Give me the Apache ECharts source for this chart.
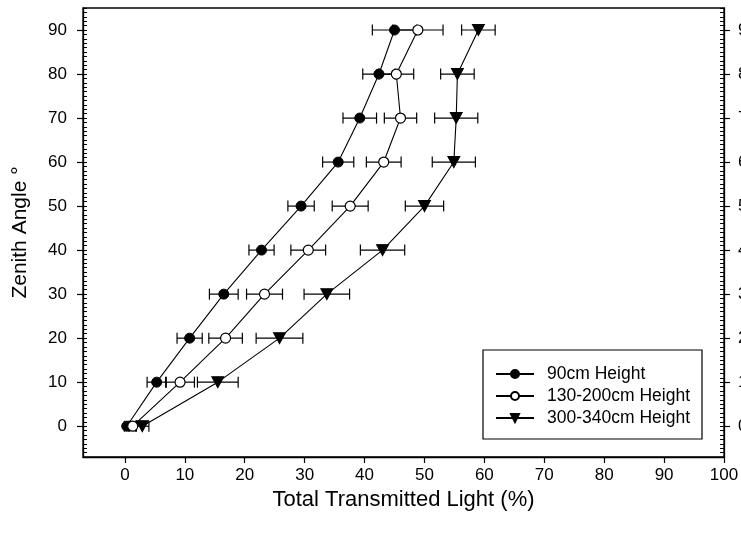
<!DOCTYPE html>
<html>
<head>
<meta charset="utf-8">
<script src="https://cdn.jsdelivr.net/npm/echarts@6/dist/echarts.min.js"></script>
<style>
  html, body { margin: 0; padding: 0; background: #fff; }
  #chart { width: 741px; height: 533px; }
</style>
</head>
<body>
<div id="chart"></div>
<script>
// Zenith angle of each measurement (degrees)
const zenithAngles = [0, 10, 20, 30, 40, 50, 60, 70, 80, 90];

// Total transmitted light (%) and its error (±) per canopy height
const light90 = [0.3, 5.3, 10.8, 16.5, 22.8, 29.4, 35.6, 39.2, 42.4, 45.0];
const err90 = [0.4, 1.6, 2.1, 2.4, 2.1, 2.2, 2.6, 2.8, 2.7, 3.7];

const light130 = [1.3, 9.2, 16.8, 23.3, 30.6, 37.6, 43.2, 46.0, 45.3, 48.9];
const err130 = [0.6, 2.4, 2.8, 3.0, 2.9, 3.0, 2.9, 2.7, 2.9, 4.2];

const light300 = [2.9, 15.5, 25.8, 33.7, 43.0, 50.0, 54.9, 55.3, 55.5, 59.0];
const err300 = [1.1, 3.4, 3.9, 3.8, 3.7, 3.2, 3.6, 3.6, 2.8, 2.8];

const seriesNames = ['90cm Height', '130-200cm Height', '300-340cm Height'];

// Tick labels
const xTickValues = [0, 10, 20, 30, 40, 50, 60, 70, 80, 90, 100];
const yTickValues = [0, 10, 20, 30, 40, 50, 60, 70, 80, 90];

const X_MIN = -7, X_MAX = 100, Y_MIN = -7, Y_MAX = 95;
const yMinorTicks = [];
for (let v = Y_MIN; v <= Y_MAX; v++) yMinorTicks.push(v);

const FONT = '"Liberation Sans", Arial, Helvetica, sans-serif';
const INK = '#000';
const PLOT = { left: 83, top: 8, width: 641, height: 449 };

function pointsOf(xs) {
  return xs.map((x, i) => [x, zenithAngles[i]]);
}
function errorRows(xs, errs) {
  return xs.map((x, i) => [x, zenithAngles[i], errs[i]]);
}

// Horizontal error bar with end caps
function renderErrorBar(params, api) {
  const x = api.value(0), y = api.value(1), e = api.value(2);
  const lo = api.coord([x - e, y]);
  const hi = api.coord([x + e, y]);
  const cap = 5.5;
  const style = { stroke: INK, lineWidth: 1.2 };
  return {
    type: 'group',
    children: [
      { type: 'line', shape: { x1: lo[0], y1: lo[1], x2: hi[0], y2: hi[1] }, style },
      { type: 'line', shape: { x1: lo[0], y1: lo[1] - cap, x2: lo[0], y2: lo[1] + cap }, style },
      { type: 'line', shape: { x1: hi[0], y1: hi[1] - cap, x2: hi[0], y2: hi[1] + cap }, style }
    ]
  };
}

// Major y axis (outward ticks, labels) on grid 0
function majorYAxis(position, showName) {
  const axis = {
    type: 'value', position, min: Y_MIN, max: Y_MAX, gridIndex: 0,
    axisLine: { show: true, onZero: false, lineStyle: { color: INK, width: 1.3 } },
    axisTick: { show: true, inside: false, length: 6, customValues: yTickValues, lineStyle: { color: INK, width: 1.2 } },
    axisLabel: { show: true, customValues: yTickValues, margin: position === 'left' ? 16 : 14,
      color: INK, fontSize: 17, fontFamily: FONT },
    splitLine: { show: false }
  };
  if (showName) {
    Object.assign(axis, {
      name: 'Zenith Angle °', nameLocation: 'middle', nameGap: 52, nameRotate: 90,
      nameTextStyle: { color: INK, fontSize: 21, fontFamily: FONT }
    });
  }
  return axis;
}

// Minor y axis (short inward ticks every degree) on the overlay grid 1
function minorYAxis(position) {
  return {
    type: 'value', position, min: Y_MIN, max: Y_MAX, gridIndex: 1,
    axisLine: { show: false, onZero: false },
    axisTick: { show: true, inside: true, length: 4, customValues: yMinorTicks, lineStyle: { color: INK, width: 1 } },
    axisLabel: { show: false },
    splitLine: { show: false }
  };
}

const chart = echarts.init(document.getElementById('chart'), null, { renderer: 'canvas' });

const lineSeries = [
  { name: seriesNames[0], data: pointsOf(light90), symbol: 'circle', symbolSize: 10,
    itemStyle: { color: INK, borderColor: INK, borderWidth: 1 } },
  { name: seriesNames[1], data: pointsOf(light130), symbol: 'circle', symbolSize: 10,
    itemStyle: { color: '#fff', borderColor: INK, borderWidth: 1.2 } },
  { name: seriesNames[2], data: pointsOf(light300), symbol: 'triangle', symbolSize: [12, 11], symbolRotate: 180,
    itemStyle: { color: INK, borderColor: INK, borderWidth: 1 } }
].map(s => Object.assign({
  type: 'line', xAxisIndex: 0, yAxisIndex: 0, z: 5, showSymbol: true, animation: false,
  lineStyle: { color: INK, width: 1.1 }, emphasis: { disabled: true }
}, s));

const errorSeries = [
  errorRows(light90, err90), errorRows(light130, err130), errorRows(light300, err300)
].map(rows => ({
  type: 'custom', xAxisIndex: 0, yAxisIndex: 0, z: 3, animation: false, silent: true,
  renderItem: renderErrorBar, encode: { x: 0, y: 1 }, data: rows
}));

chart.setOption({
  animation: false,
  backgroundColor: '#fff',
  textStyle: { fontFamily: FONT, color: INK },
  grid: [
    Object.assign({ show: true, borderColor: INK, borderWidth: 1.3, backgroundColor: 'transparent',
      containLabel: false, outerBoundsMode: 'none' }, PLOT),
    Object.assign({ show: false, containLabel: false, outerBoundsMode: 'none' }, PLOT)
  ],
  xAxis: [{
    type: 'value', position: 'bottom', min: X_MIN, max: X_MAX, gridIndex: 0,
    axisLine: { show: true, onZero: false, lineStyle: { color: INK, width: 1.3 } },
    axisTick: { show: true, length: 6, customValues: xTickValues, lineStyle: { color: INK, width: 1.2 } },
    axisLabel: { show: true, customValues: xTickValues, margin: 10, color: INK, fontSize: 17, fontFamily: FONT },
    splitLine: { show: false },
    name: 'Total Transmitted Light (%)', nameLocation: 'middle', nameGap: 22,
    nameTextStyle: { color: INK, fontSize: 22, fontFamily: FONT, verticalAlign: 'top' }
  }, {
    type: 'value', position: 'bottom', min: X_MIN, max: X_MAX, gridIndex: 1, show: false
  }],
  yAxis: [majorYAxis('left', true), majorYAxis('right', false), minorYAxis('left'), minorYAxis('right')],
  legend: {
    show: true, orient: 'vertical', left: 483, top: 350,
    data: seriesNames,
    padding: [15, 12, 12, 12], itemGap: 4, itemWidth: 38, itemHeight: 10,
    borderColor: INK, borderWidth: 1.2, backgroundColor: '#fff',
    textStyle: { color: INK, fontSize: 17.5, fontFamily: FONT, padding: [0, 0, 0, 8] },
    selectedMode: false
  },
  series: [...errorSeries, ...lineSeries]
});
</script>
</body>
</html>
